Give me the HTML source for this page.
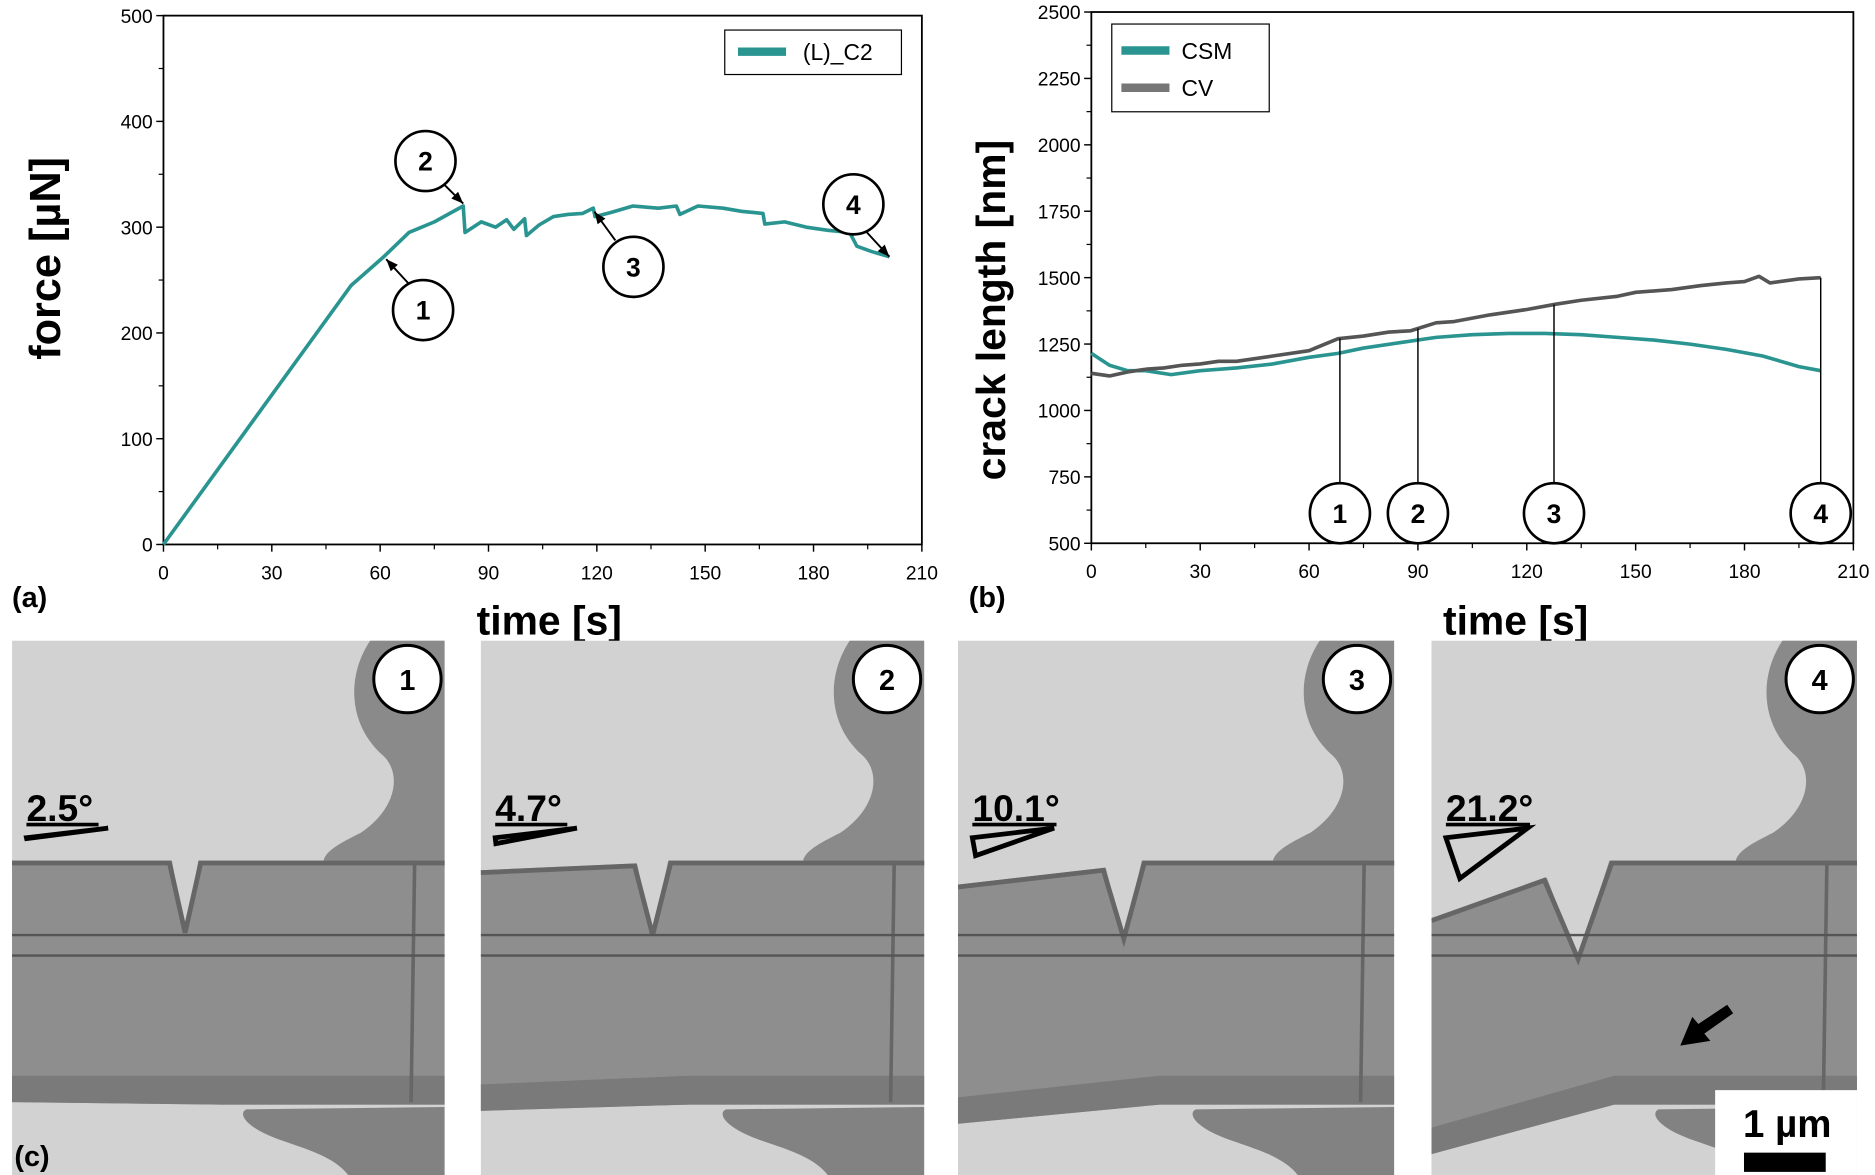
<!DOCTYPE html>
<html><head><meta charset="utf-8"><style>
html,body{margin:0;padding:0;background:#fff}
svg{display:block}
text{font-family:"Liberation Sans",Arial,sans-serif}
</style></head><body>
<svg id="fig" xmlns="http://www.w3.org/2000/svg" width="1875" height="1175" viewBox="0 0 1560 977.6">
<g id="chartA"></g>
<g id="chartB"></g>
<g id="panels"></g>
<text x="10" y="505" font-size="24" font-weight="bold">(a)</text>
<text x="806" y="505" font-size="24" font-weight="bold">(b)</text>
</svg>
<script>
// ---- data: chart (a) ----
const forceTime=[0,52,61,68,75,83,83.5,88,92,95,97,100,100.5,104,108,112,116,119,119.5,124,130,137,142,143,148,155,160,166,166.5,172,178,184,190,192,196,201];
const forceVal=[0,245,272,295,305,320,295,305,300,307,298,308,292,302,310,312,313,318,310,314,320,318,320,312,320,318,315,313,303,305,300,297,295,282,277,272];
const timeTicks=[0,30,60,90,120,150,180,210];
const forceTicks=[0,100,200,300,400,500];
// ---- data: chart (b) ----
const csmTime=[0,5,10,15,22,30,40,50,60,68,75,85,95,105,115,125,135,145,155,165,175,185,195,201];
const csmVal=[1215,1170,1150,1150,1135,1150,1160,1175,1200,1215,1235,1255,1275,1285,1290,1290,1285,1275,1265,1250,1230,1205,1165,1150];
const cvTime=[0,5,10,15,20,25,30,35,40,45,50,60,68,75,82,88,95,100,110,120,128,135,145,150,160,168,175,180,184,187,195,201];
const cvVal=[1140,1130,1145,1155,1160,1170,1175,1185,1185,1195,1205,1225,1270,1280,1295,1300,1330,1335,1360,1380,1400,1415,1430,1445,1455,1470,1480,1485,1505,1480,1495,1500];
const crackTicks=[500,750,1000,1250,1500,1750,2000,2250,2500];
const markerTimes=[68.5,90,127.5,201];
const markerLabels=["1","2","3","4"];

const NS="http://www.w3.org/2000/svg";
function mk(parent,tag,attrs,txt){const e=document.createElementNS(NS,tag);for(const k in attrs)e.setAttribute(k,attrs[k]);if(txt!==undefined)e.textContent=txt;parent.appendChild(e);return e;}
function lin(d0,d1,r0,r1){return v=>r0+(v-d0)/(d1-d0)*(r1-r0);}
function interp(ts,vs,t){for(let i=1;i<ts.length;i++){if(t<=ts[i]){const f=(t-ts[i-1])/(ts[i]-ts[i-1]);return vs[i-1]+f*(vs[i]-vs[i-1]);}}return vs[vs.length-1];}

function axes(g,x,y,xl,xr,yt,yb,yTicks,minorY){
  let fr=mk(g,'rect',{x:xl,y:yt,width:xr-xl,height:yb-yt,fill:'none',stroke:'#000','stroke-width':1.5});
  
  
  timeTicks.forEach((t,i)=>{
    const px=x(t);
    mk(g,'line',{x1:px,y1:yb,x2:px,y2:yb+6,stroke:'#000','stroke-width':1.2});
    if(i<timeTicks.length-1){const m=x(t+15);mk(g,'line',{x1:m,y1:yb,x2:m,y2:yb+4,stroke:'#000','stroke-width':1});}
    let tl=mk(g,'text',{x:px,y:yb+29,'font-size':16,'text-anchor':'middle'},String(t));
    
    
  });
  yTicks.forEach((v,i)=>{
    const py=y(v);
    mk(g,'line',{x1:xl-6,y1:py,x2:xl,y2:py,stroke:'#000','stroke-width':1.2});
    if(i<yTicks.length-1){const m=y(v+minorY);mk(g,'line',{x1:xl-4,y1:m,x2:xl,y2:m,stroke:'#000','stroke-width':1});}
    let tl=mk(g,'text',{x:xl-9,y:py+6,'font-size':16,'text-anchor':'end'},String(v));
    
    
  });
}
function poly(g,x,y,ts,vs,color,w){
  return mk(g,'polyline',{points:ts.map((t,i)=>x(t).toFixed(1)+','+y(vs[i]).toFixed(1)).join(' '),fill:'none',stroke:color,'stroke-width':w,'stroke-linejoin':'round'});
}
function circ(g,cx,cy,r,label){
  let c=mk(g,'circle',{cx:cx,cy:cy,r:r,fill:'#fff',stroke:'#000','stroke-width':2.2});
  
  
  mk(g,'text',{x:cx,y:cy+8,'font-size':22,'font-weight':'bold','text-anchor':'middle'},label);
}
function arrow(g,x1,y1,x2,y2){
  mk(g,'line',{x1:x1,y1:y1,x2:x2,y2:y2,stroke:'#000','stroke-width':1.6});
  const a=Math.atan2(y2-y1,x2-x1),L=10,W=4;
  const bx=x2-L*Math.cos(a),by=y2-L*Math.sin(a);
  mk(g,'polygon',{points:`${x2},${y2} ${bx-W*Math.sin(a)},${by+W*Math.cos(a)} ${bx+W*Math.sin(a)},${by-W*Math.cos(a)}`,fill:'#000'});
}

// ---- chart (a) ----
(function(){
  const g=document.getElementById('chartA');
  const xl=136,xr=767,yt=13,yb=453;
  const x=lin(0,210,xl,xr),y=lin(0,500,yb,yt);
  axes(g,x,y,xl,xr,yt,yb,forceTicks,50);
  let s=poly(g,x,y,forceTime,forceVal,'#2a9590',3);
  
  
  let lg=mk(g,'g',{});
  
  
  mk(lg,'rect',{x:603,y:25,width:147,height:37,fill:'#fff',stroke:'#000','stroke-width':1});
  mk(lg,'line',{x1:614,y1:43,x2:654,y2:43,stroke:'#2a9590','stroke-width':7});
  mk(lg,'text',{x:668,y:50,'font-size':19},'(L)_C2');
  let yt1=mk(g,'text',{x:0,y:0,'font-size':36,'font-weight':'900',transform:'translate(50,215) rotate(-90)','text-anchor':'middle'},'force [µN]');
  
  
  let xt=mk(g,'text',{x:457,y:528,'font-size':34,'font-weight':'bold','text-anchor':'middle'},'time [s]');
  
  
  // annotations
  const p1=[x(61),y(272)],p2=[x(83),y(320)],p3=[x(119),y(318)],p4=[x(201),y(272)];
  arrow(g,340,236,p1[0]+2,p1[1]+2); circ(g,352,258,25,'1');
  arrow(g,368,152,p2[0],p2[1]-2); circ(g,354,134,25,'2');
  arrow(g,512,200,p3[0]+1,p3[1]+3); circ(g,527,222,25,'3');
  arrow(g,720,192,p4[0],p4[1]); circ(g,710,170,25,'4');
})();

// ---- chart (b) ----
(function(){
  const g=document.getElementById('chartB');
  const xl=908,xr=1542,yt=10,yb=452;
  const x=lin(0,210,xl,xr),y=lin(500,2500,yb,yt);
  axes(g,x,y,xl,xr,yt,yb,crackTicks,125);
  let c1=poly(g,x,y,csmTime,csmVal,'#2a9590',3);
  
  
  let c2=poly(g,x,y,cvTime,cvVal,'#555555',3);
  
  
  markerTimes.forEach((t,i)=>{
    const px=x(t);
    mk(g,'line',{x1:px,y1:y(interp(cvTime,cvVal,t)),x2:px,y2:402,stroke:'#000','stroke-width':1.2});
    circ(g,px,427,25,markerLabels[i]);
  });
  let lg=mk(g,'g',{});
  
  
  mk(lg,'rect',{x:925,y:20,width:131,height:73,fill:'#fff',stroke:'#000','stroke-width':1});
  mk(lg,'line',{x1:933,y1:42,x2:973,y2:42,stroke:'#2a9590','stroke-width':7});
  mk(lg,'text',{x:983,y:49,'font-size':19},'CSM');
  mk(lg,'line',{x1:933,y1:73,x2:973,y2:73,stroke:'#777','stroke-width':7});
  mk(lg,'text',{x:983,y:80,'font-size':19},'CV');
  let yt1=mk(g,'text',{x:0,y:0,'font-size':34,'font-weight':'900',transform:'translate(836,258) rotate(-90)','text-anchor':'middle'},'crack length [nm]');
  
  
  let xt=mk(g,'text',{x:1261,y:528,'font-size':34,'font-weight':'bold','text-anchor':'middle'},'time [s]');
  
  
})();

// ---- SEM panels ----
(function(){
  const root=document.getElementById('panels');
  const defs=mk(root,'defs',{});
  const f=mk(defs,'filter',{id:'noise',x:0,y:0,width:'100%',height:'100%'});
  mk(f,'feTurbulence',{type:'fractalNoise',baseFrequency:0.9,numOctaves:1,result:'n'});
  mk(f,'feColorMatrix',{type:'matrix',values:'0 0 0 0 0  0 0 0 0 0  0 0 0 0 0  0 0 0 0.25 0',result:'m'});
  mk(f,'feComposite',{in:'m',in2:'SourceGraphic',operator:'in',result:'c'});
  mk(f,'feMerge',{}).innerHTML='';
  const panels=[
    {x:10,w:360,num:'1',ang:'2.5°',notch:144,tilt:0,nd:60,open:11},
    {x:400,w:369,num:'2',ang:'4.7°',notch:143,tilt:8,nd:62,open:13},
    {x:797,w:363,num:'3',ang:'10.1°',notch:138,tilt:20,nd:65,open:15},
    {x:1191,w:354,num:'4',ang:'21.2°',notch:122,tilt:48,nd:82,open:26}
  ];
  panels.forEach((p,i)=>{
    const g=mk(root,'g',{transform:`translate(${p.x},533)`});
    
    
    const W=p.w,H=445,T=183,B=384,t=p.tilt;
    const cid='clip'+i;
    const cp=mk(defs,'clipPath',{id:cid});mk(cp,'rect',{x:0,y:0,width:W,height:H});
    const c=mk(g,'g',{'clip-path':`url(#${cid})`});
    mk(c,'rect',{x:0,y:0,width:W,height:H,fill:'#d2d2d2'});
    // top-right blob
    mk(c,'path',{d:`M${W-62},0 C${W-82},30 ${W-80},70 ${W-52},95 C${W-35},110 ${W-40},140 ${W-70},160 C${W-90},170 ${W-105},178 ${W-100},${T+6} L${W},${T+6} L${W},0 Z`,fill:'#8a8a8a'});
    // beam
    const nl=p.notch-p.open, nr=p.notch+p.open, tip=T+p.nd;
    mk(c,'path',{d:`M0,${T+t} L${nl},${T+t*0.3} L${p.notch},${tip} L${nr},${T} L${W},${T} L${W},${B+2} L${p.notch+30},${B+2} L0,${B+t*0.9} Z`,fill:'#8e8e8e'});
    mk(c,'polyline',{points:`0,${T+t+2} ${nl-2},${T+t*0.3+2} ${p.notch},${tip} ${nr+2},${T+2} ${W},${T+2}`,fill:'none',stroke:'#666','stroke-width':4});
    mk(c,'path',{d:`M0,${B-22+t*0.9} L${p.notch+30},${B-22} L${W},${B-22} L${W},${B+2} L${p.notch+30},${B+2} L0,${B+t*0.9} Z`,fill:'#7a7a7a'});
    // vertical dark line near right
    mk(c,'line',{x1:W-25,y1:T,x2:W-28,y2:B,stroke:'#666','stroke-width':3});
    // horizontal scan lines
    mk(c,'line',{x1:0,y1:245,x2:W,y2:245,stroke:'#555','stroke-width':2});
    mk(c,'line',{x1:0,y1:262,x2:W,y2:262,stroke:'#555','stroke-width':2});
    // gripper bottom
    mk(c,'path',{d:`M${W-165},${B+6} L${W},${B+4} L${W},${H} L${W-80},${H} C${W-95},425 ${W-130},420 ${W-150},410 C${W-170},400 ${W-170},392 ${W-165},${B+6} Z`,fill:'#828282'});
    mk(c,'rect',{x:0,y:0,width:W,height:H,fill:'#888',filter:'url(#noise)',opacity:0.5});
    // number circle
    mk(g,'circle',{cx:W-31,cy:32,r:28,fill:'#fff',stroke:'#000','stroke-width':2.5});
    mk(g,'text',{x:W-31,y:41,'font-size':24,'font-weight':'bold','text-anchor':'middle'},p.num);
    // angle label
    let al=mk(g,'text',{x:12,y:150,'font-size':31,'font-weight':'bold'},p.ang);
    
    
    mk(g,'line',{x1:12,y1:153,x2:12+(p.ang.length>4?70:60),y2:153,stroke:'#000','stroke-width':3});
    const ra=[2.5,4.7,10.1,21.2][i]*Math.PI/180*1.6;
    mk(g,'polygon',{points:`12,164 80,156 ${80-68*Math.cos(ra)},${156+68*Math.sin(ra)+4}`,fill:'none',stroke:'#000','stroke-width':4});
  });
  // (c) label
  mk(root,'text',{x:12,y:970,'font-size':24,'font-weight':'bold'},'(c)');
  // arrow in panel 4
  mk(root,'polygon',{points:'1398,870 1408,846 1413,852 1437,836 1442,843 1418,860 1423,866',fill:'#000'});
  // scale bar
  const sb=mk(root,'g',{});
  
  
  mk(sb,'rect',{x:1427,y:907,width:118,height:71,fill:'#fff'});
  mk(sb,'text',{x:1487,y:946,'font-size':32,'font-weight':'bold','text-anchor':'middle'},'1 µm');
  mk(sb,'rect',{x:1451,y:959,width:68,height:16,fill:'#000'});
})();
</script>
</body></html>
